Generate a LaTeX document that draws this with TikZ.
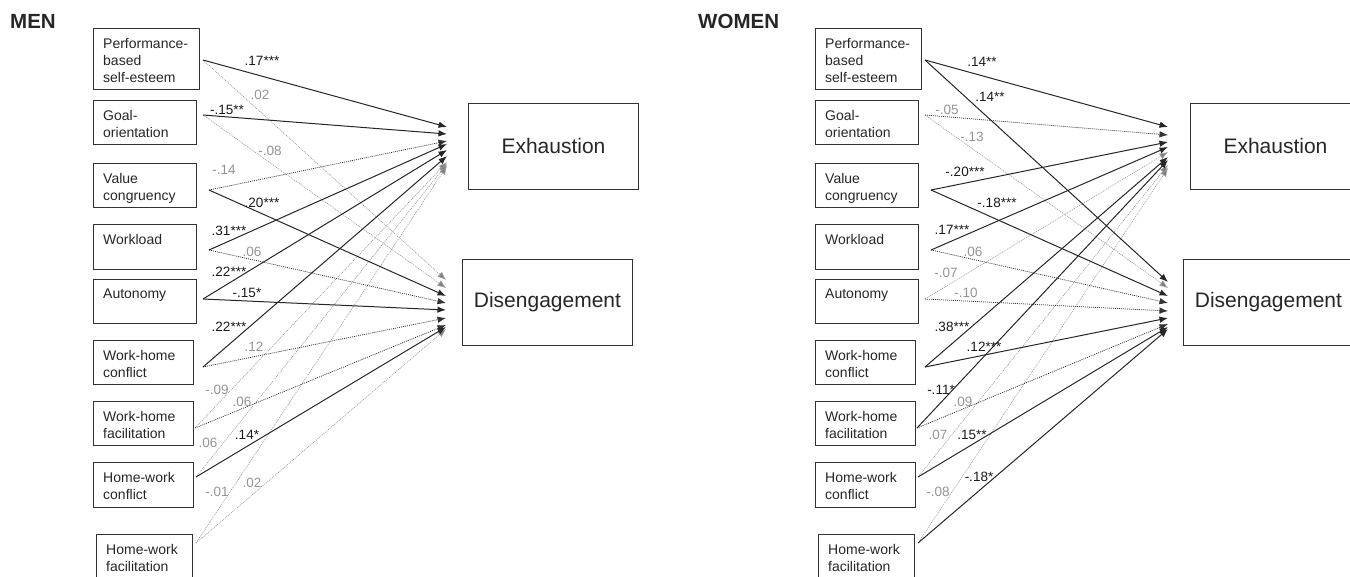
\documentclass[tikz,border=0pt]{standalone}
\usepackage{fontspec}
\setmainfont{Liberation Sans}
\usetikzlibrary{arrows.meta}
\tikzset{
 box/.style={draw=black!80, line width=0.9pt, inner sep=0pt, anchor=north west},
 boxtxt/.style={anchor=north west, inner sep=0pt, align=left, text=black!85, font=\fontsize{14}{17}\selectfont},
 outbox/.style={draw=black!80, line width=0.9pt, inner sep=0pt, anchor=north west, minimum width=170pt, minimum height=86pt, font=\fontsize{21}{25}\selectfont, text=black!85},
 sig/.style={draw=black!85, line width=1pt, -{Latex[length=8.5pt,width=6.5pt]}},
 nsd/.style={draw=black!80, line width=0.75pt, dash pattern=on 1pt off 1pt, -{Latex[length=8.5pt,width=6.5pt]}},
 nsl/.style={draw=black!40, line width=0.65pt, dash pattern=on 1pt off 1pt, -{Latex[length=8.5pt,width=6.5pt,fill=black!50]}},
 lab/.style={font=\fontsize{13.5}{16}\selectfont, inner sep=0pt, text=black!90},
 nlab/.style={lab, text=black!42},
 ttl/.style={font=\fontsize{20.5}{24}\selectfont\bfseries, anchor=north west, inner sep=0pt, text=black!85}
}
\newcommand{\panelboxes}[1]{%
 \node[box, minimum width=106pt, minimum height=61pt] (#1P) at (93,28) {};
 \node[boxtxt] (#1Pt) at ([shift={(10pt,-10pt)}]#1P.north west) {Performance-\\based\\self-esteem};
 \node[box, minimum width=103pt, minimum height=44pt] (#1G) at (93,100) {};
 \node[boxtxt] (#1Gt) at ([shift={(10pt,-10pt)}]#1G.north west) {Goal-\\orientation};
 \node[box, minimum width=103pt, minimum height=44pt] (#1V) at (93,163) {};
 \node[boxtxt] (#1Vt) at ([shift={(10pt,-10pt)}]#1V.north west) {Value\\congruency};
 \node[box, minimum width=103pt, minimum height=45pt] (#1W) at (93,224) {};
 \node[boxtxt] (#1Wt) at ([shift={(10pt,-10pt)}]#1W.north west) {Workload};
 \node[box, minimum width=103pt, minimum height=44pt] (#1A) at (93,279) {};
 \node[boxtxt] (#1At) at ([shift={(10pt,-10pt)}]#1A.north west) {Autonomy};
 \node[box, minimum width=100pt, minimum height=44pt] (#1C) at (93,340) {};
 \node[boxtxt] (#1Ct) at ([shift={(10pt,-10pt)}]#1C.north west) {Work-home\\conflict};
 \node[box, minimum width=100pt, minimum height=44pt] (#1F) at (93,401) {};
 \node[boxtxt] (#1Ft) at ([shift={(10pt,-10pt)}]#1F.north west) {Work-home\\facilitation};
 \node[box, minimum width=100pt, minimum height=45pt] (#1H) at (93,462) {};
 \node[boxtxt] (#1Ht) at ([shift={(10pt,-10pt)}]#1H.north west) {Home-work\\conflict};
 \node[box, minimum width=96pt, minimum height=46pt] (#1K) at (96,534) {};
 \node[boxtxt] (#1Kt) at ([shift={(10pt,-10pt)}]#1K.north west) {Home-work\\facilitation};
 \coordinate (#1Po) at (203,60);
 \coordinate (#1Go) at (203,115);
 \coordinate (#1Vo) at (209,190);
 \coordinate (#1Wo) at (209,250);
 \coordinate (#1Ao) at (203,299);
 \coordinate (#1Co) at (203,367);
 \coordinate (#1Fo) at (195,428);
 \coordinate (#1Ho) at (196,477);
 \coordinate (#1Ko) at (196,543);
}
\begin{document}
\begin{tikzpicture}[x=1pt,y=-1pt]
\useasboundingbox (0,0) rectangle (1350,576);
% ================= MEN =================
\begin{scope}
\node[ttl] (mT) at (10,14) {MEN};
\panelboxes{m}
\node[outbox] (mE) at (468,103) {Exhaustion};
\node[outbox] (mD) at (462,259) {Disengagement};
\foreach \n/\y in {P/127,G/134,V/141,W/144,A/150,C/156,F/162,H/164,K/166}
  {\coordinate (mE\n) at (447,\y);}
\foreach \n/\y in {P/280,G/288,V/296,W/303,A/310,C/318,F/325,H/327,K/329}
  {\coordinate (mD\n) at (446,\y);}
% light dotted first
\draw[nsl] (mPo) -- (mDP);
\draw[nsl] (mGo) -- (mDG);
\draw[nsl] (mFo) -- (mEF);
\draw[nsl] (mHo) -- (mEH);
\draw[nsl] (mKo) -- (mEK);
\draw[nsl] (mKo) -- (mDK);
\draw[nsd] (mVo) -- (mEV);
\draw[nsd] (mWo) -- (mDW);
\draw[nsd] (mCo) -- (mDC);
\draw[nsd] (mFo) -- (mDF);
\draw[sig] (mPo) -- (mEP);
\draw[sig] (mGo) -- (mEG);
\draw[sig] (mVo) -- (mDV);
\draw[sig] (mWo) -- (mEW);
\draw[sig] (mAo) -- (mEA);
\draw[sig] (mAo) -- (mDA);
\draw[sig] (mCo) -- (mEC);
\draw[sig] (mHo) -- (mDH);
% labels
\node[lab]  (ml1)  at (262,61)  {.17***};
\node[nlab] (ml2)  at (260,95)  {.02};
\node[lab]  (ml3)  at (227,110) {-.15**};
\node[nlab] (ml4)  at (270,151) {-.08};
\node[nlab] (ml5)  at (224,170) {-.14};
\node[lab]  (ml6)  at (262,203) {.20***};
\node[lab]  (ml7)  at (229,231) {.31***};
\node[nlab] (ml8)  at (252,252) {.06};
\node[lab]  (ml9)  at (229,272) {.22***};
\node[lab]  (ml10) at (247,293) {-.15*};
\node[lab]  (ml11) at (229,327) {.22***};
\node[nlab] (ml12) at (254,347) {.12};
\node[nlab] (ml13) at (217,390) {-.09};
\node[nlab] (ml14) at (242,402) {.06};
\node[nlab] (ml15) at (208,443) {.06};
\node[lab]  (ml16) at (247,435) {.14*};
\node[nlab] (ml17) at (217,492) {-.01};
\node[nlab] (ml18) at (252,483) {.02};
\end{scope}
% ================= WOMEN =================
\begin{scope}[xshift=722pt]
\node[ttl] (wT) at (-24,14) {WOMEN};
\panelboxes{w}
\node[outbox] (wE) at (468,103) {Exhaustion};
\node[outbox] (wD) at (461,259) {Disengagement};
\foreach \n/\y in {P/127,G/135,V/142,W/147,A/152,C/157,F/160,H/165,K/168}
  {\coordinate (wE\n) at (446,\y);}
\foreach \n/\y in {P/282,G/288,V/296,W/303,A/311,C/318,F/324,H/327,K/329}
  {\coordinate (wD\n) at (446,\y);}
\draw[nsl] (wGo) -- (wDG);
\draw[nsl] (wAo) -- (wEA);
\draw[nsl] (wHo) -- (wEH);
\draw[nsl] (wKo) -- (wEK);
\draw[nsd] (wGo) -- (wEG);
\draw[nsd] (wWo) -- (wDW);
\draw[nsd] (wAo) -- (wDA);
\draw[nsd] (wFo) -- (wDF);
\draw[sig] (wPo) -- (wEP);
\draw[sig] (wPo) -- (wDP);
\draw[sig] (wVo) -- (wEV);
\draw[sig] (wVo) -- (wDV);
\draw[sig] (wWo) -- (wEW);
\draw[sig] (wCo) -- (wEC);
\draw[sig] (wCo) -- (wDC);
\draw[sig] (wFo) -- (wEF);
\draw[sig] (wHo) -- (wDH);
\draw[sig] (wKo) -- (wDK);
\node[lab]  (wl1)  at (260,62)  {.14**};
\node[lab]  (wl2)  at (268,97)  {.14**};
\node[nlab] (wl3)  at (225,110) {-.05};
\node[nlab] (wl4)  at (250,137) {-.13};
\node[lab]  (wl5)  at (243,172) {-.20***};
\node[lab]  (wl6)  at (275,203) {-.18***};
\node[lab]  (wl7)  at (230,230) {.17***};
\node[nlab] (wl8)  at (251,252) {.06};
\node[nlab] (wl9)  at (224,273) {-.07};
\node[nlab] (wl10) at (244,293) {-.10};
\node[lab]  (wl11) at (230,327) {.38***};
\node[lab]  (wl12) at (262,347) {.12***};
\node[lab]  (wl13) at (219,390) {-.11*};
\node[nlab] (wl14) at (241,402) {.09};
\node[nlab] (wl15) at (216,435) {.07};
\node[lab]  (wl16) at (250,435) {.15**};
\node[lab]  (wl17) at (257,477) {-.18*};
\node[nlab] (wl18) at (216,492) {-.08};
\end{scope}
\end{tikzpicture}
\end{document}
